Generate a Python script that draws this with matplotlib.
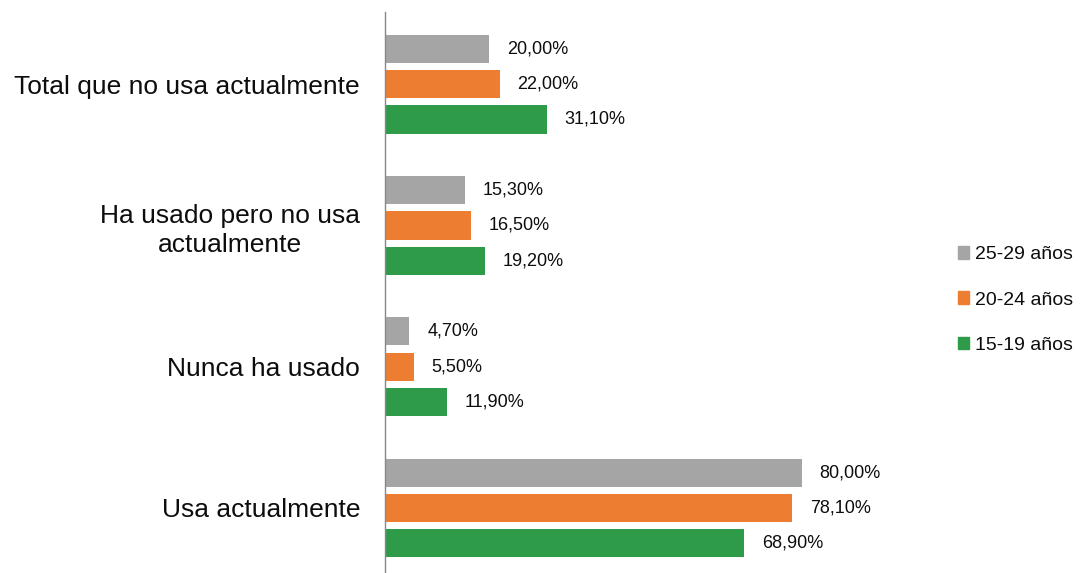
import matplotlib.pyplot as plt
from matplotlib.patches import Patch

plt.rcParams['font.family'] = ['Liberation Sans', 'DejaVu Sans']

# Data (bottom to top)
categories = ["Usa actualmente", "Nunca ha usado",
              "Ha usado pero no usa\nactualmente", "Total que no usa actualmente"]
series_names = ["25-29 años", "20-24 años", "15-19 años"]
vals_25_29 = [80.0, 4.7, 15.3, 20.0]
vals_20_24 = [78.1, 5.5, 16.5, 22.0]
vals_15_19 = [68.9, 11.9, 19.2, 31.1]
colors = ["#A5A5A5", "#ED7D31", "#2E9B48"]

fig = plt.figure(figsize=(10.81, 5.73), dpi=100)
ax = fig.add_axes([385 / 1081, 0, 545 / 1081, 561 / 573])

offsets = [0.25, 0.0, -0.25]
height = 0.2
for vals, off, col in zip([vals_25_29, vals_20_24, vals_15_19], offsets, colors):
    ys = [i + off for i in range(len(categories))]
    ax.barh(ys, vals, height=height, color=col)
    for y, v in zip(ys, vals):
        ax.text(v + 3.4, y, f"{v:.2f}%".replace(".", ","), va="center",
                ha="left", fontsize=13, color="#0d0d0d")

ax.set_xlim(0, 104.6)
ax.set_ylim(-0.46, 3.51)
ax.set_yticks(range(len(categories)))
ax.set_yticklabels(categories, fontsize=19, color="#0d0d0d")
ax.tick_params(axis="y", length=0, pad=18)
ax.set_xticks([])
for s in ["top", "right", "bottom"]:
    ax.spines[s].set_visible(False)
ax.spines["left"].set_color("#888888")
ax.spines["left"].set_linewidth(1)
for lbl in ax.get_yticklabels():
    lbl.set_multialignment("center")
    lbl.set_linespacing(1.25)

handles = [Patch(color=c, label=n) for c, n in zip(colors, series_names)]
fig.legend(handles=handles, loc="center left", bbox_to_anchor=(944 / 1081, 1 - 300 / 573),
           frameon=False, fontsize=14, handlelength=0.6, handleheight=0.6,
           handletextpad=0.3, labelspacing=1.45, borderpad=0.2, labelcolor="#0d0d0d")

fig.savefig("out.png", dpi=100)
